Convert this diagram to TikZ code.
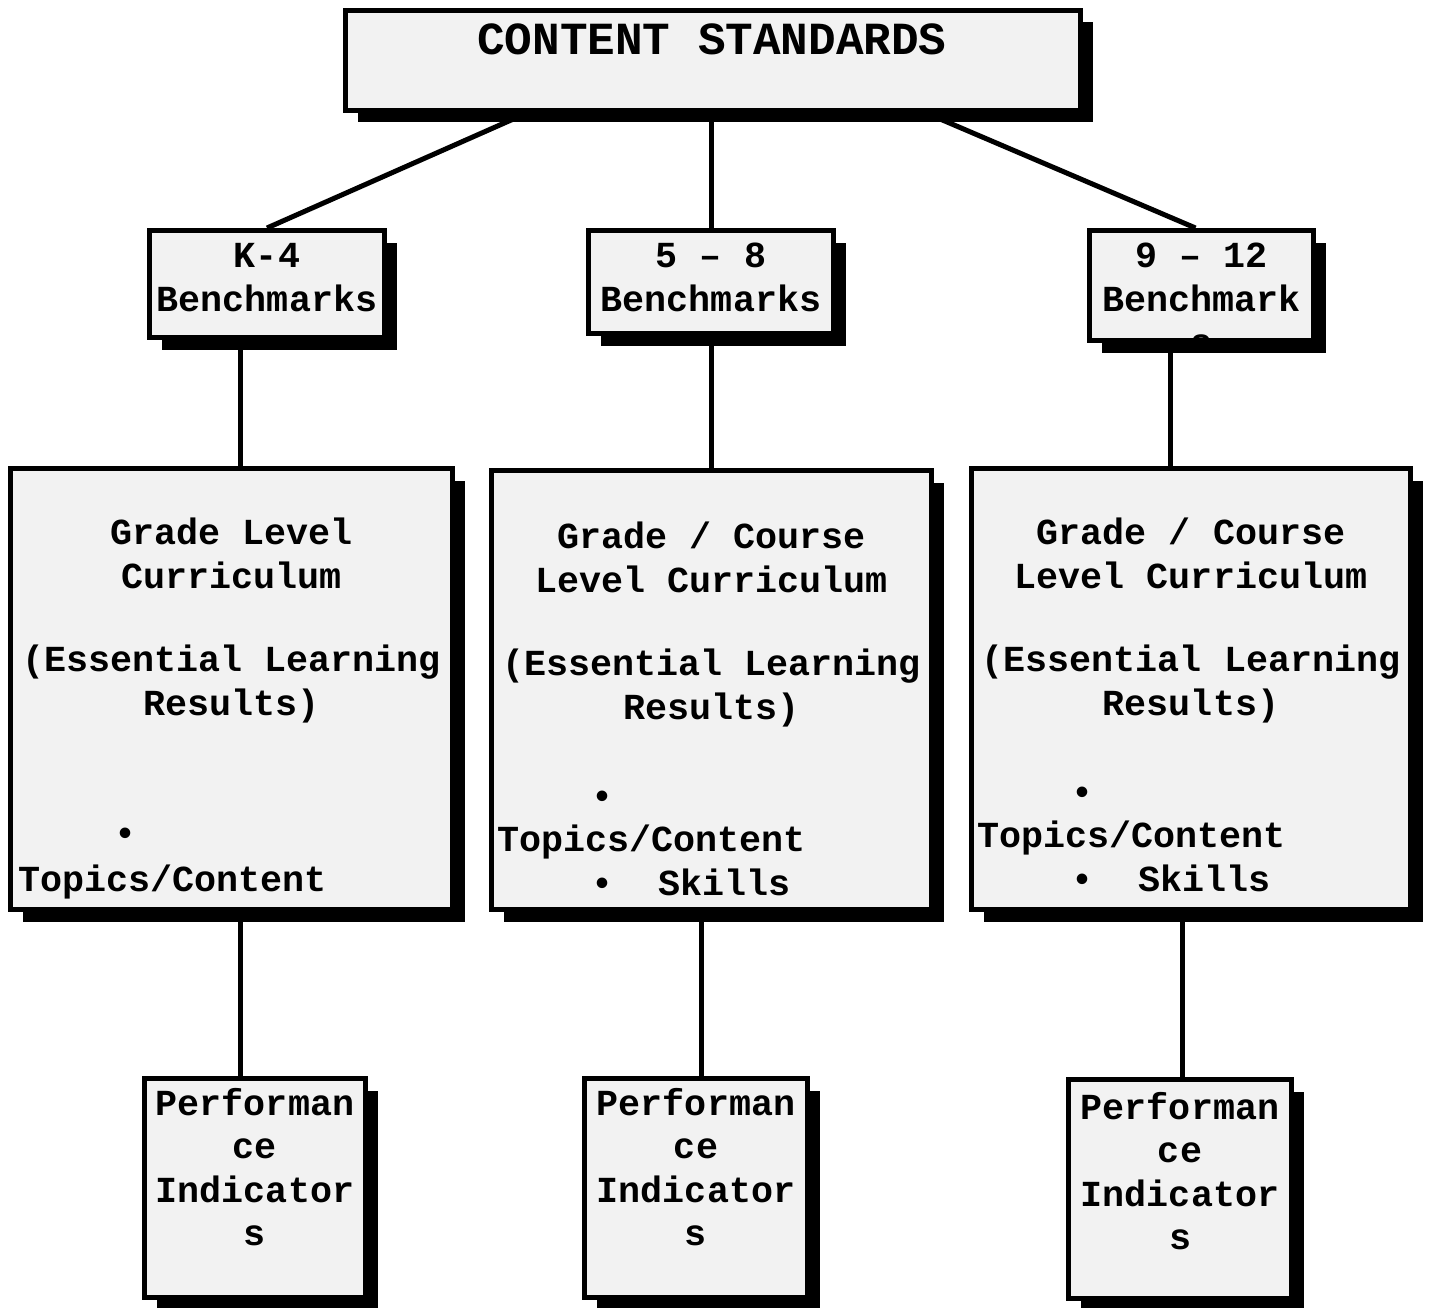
\documentclass[tikz,border=0pt]{standalone}
\usepackage{fontspec}
\setmonofont{Liberation Mono}
\usetikzlibrary{shadows}
\definecolor{panelgray}{RGB}{242,242,242}
\tikzstyle{panel}   = [rectangle, draw=black, line width=5pt, fill=panelgray, drop shadow={shadow xshift=12pt, shadow yshift=-12pt, fill=black, opacity=1}]
\tikzstyle{boxtext} = [font=\ttfamily\bfseries\fontsize{36.7}{43.5}\selectfont, align=center, inner sep=0pt, anchor=base]
\tikzstyle{listtext} = [font=\ttfamily\bfseries\fontsize{36.7}{43.5}\selectfont, align=left, inner sep=0pt, anchor=base west]
\tikzstyle{link}    = [line width=5pt]

\begin{document}
\begin{tikzpicture}[x=1pt, y=1pt]
        \useasboundingbox (0,0) rectangle (1429,-1308);

        % boxes
        \node (std)   [panel, minimum width=735pt, minimum height=100pt] at (713,-60.5) {};
        \node (k4)    [panel, minimum width=235pt, minimum height=107pt] at (267,-284) {};
        \node (b58)   [panel, minimum width=245pt, minimum height=103pt] at (711,-282) {};
        \node (b912)  [panel, minimum width=224pt, minimum height=110pt] at (1201.5,-285.5) {};
        \node (curA)  [panel, minimum width=442pt, minimum height=441pt] at (231.5,-689) {};
        \node (curB)  [panel, minimum width=440pt, minimum height=439pt] at (711.5,-690) {};
        \node (curC)  [panel, minimum width=439pt, minimum height=441pt] at (1191,-689) {};
        \node (perfA) [panel, minimum width=221pt, minimum height=219pt] at (255,-1188) {};
        \node (perfB) [panel, minimum width=223pt, minimum height=219pt] at (696,-1188) {};
        \node (perfC) [panel, minimum width=223pt, minimum height=219pt] at (1180,-1189) {};

        % texts (anchored on the baseline of the last line)
        \node (stdtext) [boxtext, font=\ttfamily\bfseries\fontsize{46}{52}\selectfont] at (712,-55) {CONTENT STANDARDS};
        \node (k4text)  [boxtext] at (267,-311) {K-4\\Benchmarks};
        \node (b58text) [boxtext] at (711,-311) {5 – 8\\Benchmarks};
        \begin{scope}
            \clip ([shift={(2.5,2.5)}]b912.south west) rectangle ([shift={(-2.5,-2.5)}]b912.north east);
            \node (b912text) [boxtext] at (1201.5,-354.5) {9 – 12\\Benchmark\\s};
        \end{scope}

        \node (curAtext) [boxtext] at (231.5,-715) {Grade Level\\Curriculum\\[40pt](Essential Learning\\Results)};
        \node (curBtext) [boxtext] at (711.5,-719) {Grade / Course\\Level Curriculum\\[40pt](Essential Learning\\Results)};
        \node (curCtext) [boxtext] at (1191,-715) {Grade / Course\\Level Curriculum\\[40pt](Essential Learning\\Results)};

        \node (curAlist) [listtext] at (18,-891)  {\hspace*{96pt}•\\[2pt]Topics/Content};
        \node (curBlist) [listtext] at (497,-895) {\hspace*{94pt}•\\Topics/Content\\\hspace*{94pt}•\hspace*{45pt}Skills};
        \node (curClist) [listtext] at (977,-891) {\hspace*{94pt}•\\Topics/Content\\\hspace*{94pt}•\hspace*{45pt}Skills};

        \node (perfAtext) [boxtext] at (255,-1245.5)  {Performan\\ce\\Indicator\\s};
        \node (perfBtext) [boxtext] at (696,-1245.5)  {Performan\\ce\\Indicator\\s};
        \node (perfCtext) [boxtext] at (1180,-1249.5) {Performan\\ce\\Indicator\\s};

        % connectors
        \draw [link] ([xshift=-186]std.south) -- (k4.north);
        \draw [link] (b58.north |- std.south) -- (b58.north);
        \draw [link] ([xshift=213]std.south) -- ([xshift=-6]b912.north);

        \draw [link] ([xshift=9]curA.north |- k4.south) -- ([xshift=9]curA.north);
        \draw [link] (b58.south) -- (b58.south |- curB.north);
        \draw [link] ([xshift=-21]curC.north |- b912.south) -- ([xshift=-21]curC.north);

        \draw [link] ([xshift=-15]perfA.north |- curA.south) -- ([xshift=-15]perfA.north);
        \draw [link] ([xshift=5]perfB.north |- curB.south) -- ([xshift=5]perfB.north);
        \draw [link] ([xshift=2]perfC.north |- curC.south) -- ([xshift=2]perfC.north);
    \end{tikzpicture}
\end{document}
